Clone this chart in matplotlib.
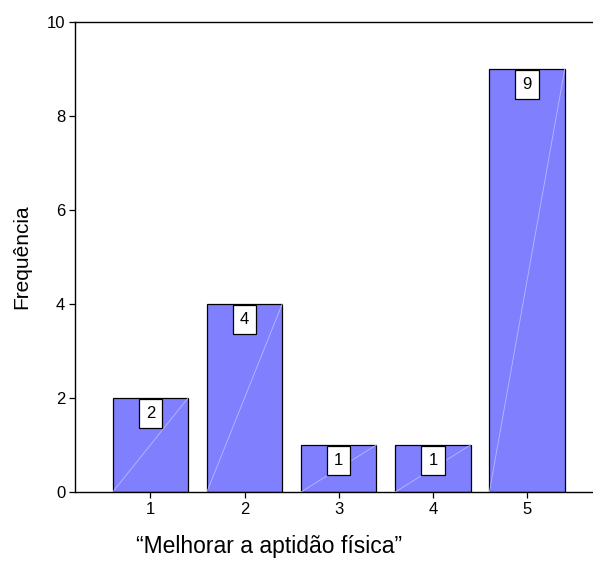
import matplotlib
matplotlib.use("Agg")
import matplotlib.pyplot as plt
from matplotlib import font_manager

categories = [1, 2, 3, 4, 5]
counts = [2, 4, 1, 1, 9]
y_ticks = [0, 2, 4, 6, 8, 10]

names = {f.name for f in font_manager.fontManager.ttflist}
narrow = "Liberation Sans Narrow" if "Liberation Sans Narrow" in names else "Liberation Sans"

fig = plt.figure(figsize=(5.93, 5.67), dpi=100)
ax = fig.add_axes([75 / 593, 1 - 492 / 567, 1 - 75 / 593, (492 - 22) / 567])

bar_w = 0.8
ax.bar(categories, counts, width=bar_w, color="#8080ff", edgecolor="black",
       linewidth=0.9, zorder=2)

# faint diagonal inside each bar
for x, v in zip(categories, counts):
    ax.plot([x - bar_w / 2, x + bar_w / 2], [0, v], color="#b8b8ff",
            lw=0.6, zorder=3)

# value labels boxed at the top of each bar
for x, v in zip(categories, counts):
    ax.annotate(str(v), xy=(x, v), xytext=(0, -5.5), textcoords="offset points",
                ha="center", va="top", fontsize=12, family="Liberation Sans",
                bbox=dict(boxstyle="square,pad=0.42", fc="white", ec="black", lw=0.9),
                zorder=4)

ax.set_xlim(0.2, 5.7)
ax.set_ylim(0, 10)
ax.set_xticks(categories)
ax.set_xticklabels([str(c) for c in categories], family=narrow, fontsize=12)
ax.set_yticks(y_ticks)
ax.set_yticklabels([str(t) for t in y_ticks], family=narrow, fontsize=12)
ax.tick_params(direction="out", length=4, width=0.9, pad=3)

ax.spines["right"].set_visible(False)
for s in ("left", "top", "bottom"):
    ax.spines[s].set_linewidth(1.0)

ax.set_ylabel("Frequência", family="Liberation Sans", fontsize=15)
ax.yaxis.label.set_va("center")
ax.yaxis.set_label_coords(-0.102, 0.5)
ax.set_xlabel("\u201cMelhorar a aptidão física\u201d", family="Liberation Sans",
              fontsize=16.5)
ax.xaxis.label.set_va("center")
ax.xaxis.set_label_coords(0.375, -0.117)

fig.savefig("out.png", dpi=100)
